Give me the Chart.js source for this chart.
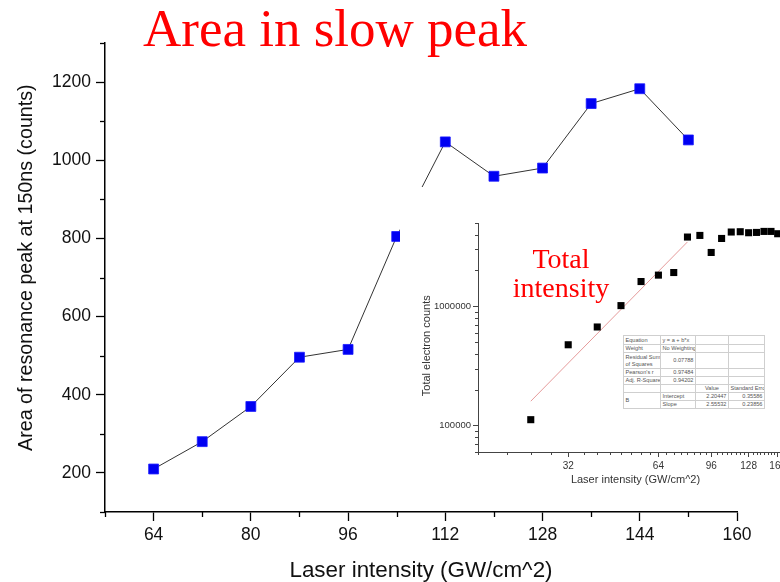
<!DOCTYPE html>
<html>
<head>
<meta charset="utf-8">
<script src="https://cdn.jsdelivr.net/npm/chart.js@4.4.0/dist/chart.umd.min.js"></script>
<style>
  html, body { margin: 0; padding: 0; background: #fff; overflow: hidden; }
  #wrap { position: relative; width: 780px; height: 582px; overflow: hidden; background: #fff; }
  #main { position: absolute; left: 0; top: 0; }
  #headline {
    position: absolute; left: 143px; top: 2px; margin: 0;
    font-family: 'Liberation Serif', 'DejaVu Serif', serif; font-weight: normal;
    font-size: 53px; line-height: 53px; color: #ff0000; white-space: nowrap;
  }
  #insetBox { position: absolute; left: 400px; top: 187px; width: 380px; height: 310px; background: #fff; overflow: hidden; }
  #inset { position: absolute; left: -1px; top: 0; }
  #insetNote {
    position: absolute; left: 501px; top: 244px; width: 120px; text-align: center;
    font-family: 'Liberation Serif', 'DejaVu Serif', serif; font-size: 28px; line-height: 29px; color: #ff0000;
  }
  #fitTable {
    position: absolute; left: 623px; top: 335px; width: 141px; height: 73px;
    border-collapse: collapse; table-layout: fixed; background: #fff;
    font-family: 'Liberation Sans', Arial, sans-serif; font-size: 5.6px; line-height: 6.4px; color: #555;
  }
  #fitTable td { border: 0.6px solid #cfcfcf; padding: 0 1.5px; overflow: hidden; white-space: nowrap; vertical-align: middle; }
  #fitTable td.num { text-align: right; }
  #fitTable td.mid { text-align: center; }
</style>
</head>
<body>
<div id="wrap">
  <canvas id="main" width="780" height="582"></canvas>
  <h1 id="headline">Area in slow peak</h1>
  <div id="insetBox"><canvas id="inset" width="402" height="300"></canvas></div>
  <div id="insetNote">Total<br>intensity</div>
  <table id="fitTable"></table>
</div>
<script>
// Slow-peak area versus laser intensity
const intensity = [64, 72, 80, 88, 96, 104, 112, 120, 128, 136, 144, 152];
const slowPeakArea = [210, 280, 370, 496, 516, 805, 1047, 959, 980, 1145, 1183, 1052];
const xTickValues = [64, 80, 96, 112, 128, 144, 160];
const yTickValues = [200, 400, 600, 800, 1000, 1200];

// Total electron counts (log-log inset)
const insetIntensity = [24, 32, 40, 48, 56, 64, 72, 80, 88, 96, 104, 112, 120, 128, 136, 144, 152, 160];
const totalCounts = [112000, 476000, 671000, 1014000, 1614000, 1827000, 1921000, 3812000, 3933000, 2830000,
                     3710000, 4200000, 4225000, 4143000, 4168000, 4250000, 4250000, 4064000];
const fitIntensity = [24, 80];
const fitCounts = [160000, 3470000];
const insetXTickValues = [32, 64, 96, 128, 160];
const insetYTickValues = [100000, 1000000];

// Linear fit summary
const fitRows = [
  ['Equation', 'y = a + b*x', '', ''],
  ['Weight', 'No Weighting', '', ''],
  ['Residual Sum\nof Squares', '0.07788', '', ''],
  ["Pearson's r", '0.97484', '', ''],
  ['Adj. R-Square', '0.94202', '', ''],
  ['', '', 'Value', 'Standard Erro'],
  ['B', 'Intercept', '2.20447', '0.35586'],
  ['', 'Slope', '2.55532', '0.23856']
];

const SANS = "'Liberation Sans', Arial, sans-serif";
const EN_SPACE = '\u2002';

function stepValues(from, to, step, skip) {
  const out = [];
  for (let v = from; v <= to + 1e-9; v += step) if (!skip.includes(v)) out.push(v);
  return out;
}
function logMinorValues(min, max, skip) {
  const out = [];
  for (let e = Math.floor(Math.log10(min)); e <= Math.ceil(Math.log10(max)); e++) {
    for (let m = 1; m <= 9; m++) {
      const v = m * Math.pow(10, e);
      if (v >= min && v <= max && !skip.includes(v)) out.push(v);
    }
  }
  return out;
}

// Short unlabeled tick marks between the labelled ones
const minorTicks = {
  id: 'minorTicks',
  afterDraw(chart, args, opts) {
    const ctx = chart.ctx;
    ctx.save();
    ctx.strokeStyle = opts.color;
    ctx.lineWidth = opts.width;
    Object.keys(opts.axes).forEach(id => {
      const s = chart.scales[id];
      const cfg = opts.axes[id];
      cfg.values.forEach(v => {
        if (v < s.min || v > s.max) return;
        ctx.beginPath();
        if (s.isHorizontal()) {
          const x = Math.round(s.getPixelForValue(v)) + 0.5;
          ctx.moveTo(x, s.top);
          ctx.lineTo(x, s.top + cfg.length);
        } else {
          const y = Math.round(s.getPixelForValue(v)) + 0.5;
          ctx.moveTo(s.right, y);
          ctx.lineTo(s.right - cfg.length, y);
        }
        ctx.stroke();
      });
    });
    ctx.restore();
  }
};

Chart.register(minorTicks);

new Chart(document.getElementById('main'), {
  type: 'line',
  data: {
    datasets: [{
      data: intensity.map((x, i) => ({ x: x, y: slowPeakArea[i] })),
      borderColor: '#333333',
      borderWidth: 1,
      pointStyle: 'rect',
      pointRadius: 7,
      pointBackgroundColor: '#0000f2',
      pointBorderColor: '#1a1aff',
      pointBorderWidth: 0.8,
      tension: 0
    }]
  },
  options: {
    responsive: false,
    animation: false,
    events: [],
    layout: { padding: { left: 0, top: 43, right: 43, bottom: 0 } },
    plugins: {
      legend: { display: false },
      tooltip: { enabled: false },
      minorTicks: {
        color: '#000', width: 1.3,
        axes: {
          x: { values: stepValues(56, 160, 8, xTickValues), length: 5 },
          y: { values: stepValues(100, 1300, 100, yTickValues), length: 5 }
        }
      }
    },
    scales: {
      x: {
        type: 'linear', min: 56, max: 160,
        afterBuildTicks: s => { s.ticks = xTickValues.map(v => ({ value: v })); },
        afterFit: s => { s.height = 70; },
        grid: { drawOnChartArea: false, tickLength: 9, tickColor: '#000', tickWidth: 1.3 },
        border: { color: '#000', width: 1.5 },
        ticks: { color: '#111', padding: 4, maxRotation: 0, font: { family: SANS, size: 17.5 }, callback: v => String(v) },
        title: { display: true, text: 'Laser intensity (GW/cm^2)', color: '#111',
                 font: { family: SANS, size: 22.4, lineHeight: 1 }, padding: { top: 0, bottom: 0 } }
      },
      y: {
        type: 'linear', min: 100, max: 1300,
        afterBuildTicks: s => { s.ticks = yTickValues.map(v => ({ value: v })); },
        afterFit: s => { s.width = 105; },
        grid: { drawOnChartArea: false, tickLength: 9, tickColor: '#000', tickWidth: 1.3 },
        border: { color: '#000', width: 1.5 },
        ticks: { color: '#111', padding: 5, font: { family: SANS, size: 17.5 }, callback: v => String(v) },
        title: { display: true, text: EN_SPACE + EN_SPACE + 'Area of resonance peak at 150ns (counts)', color: '#111',
                 font: { family: SANS, size: 19.7, lineHeight: 1.2 }, padding: { top: 15, bottom: 0 } }
      }
    }
  }
});

new Chart(document.getElementById('inset'), {
  type: 'scatter',
  data: {
    datasets: [{
      data: insetIntensity.map((x, i) => ({ x: x, y: totalCounts[i] })),
      showLine: false,
      pointStyle: 'rect',
      pointRadius: 5,
      pointBackgroundColor: '#000',
      pointBorderColor: '#000',
      pointBorderWidth: 0
    }, {
      data: fitIntensity.map((x, i) => ({ x: x, y: fitCounts[i] })),
      showLine: true,
      borderColor: '#e59a9a',
      borderWidth: 1,
      pointRadius: 0
    }]
  },
  options: {
    responsive: false,
    animation: false,
    events: [],
    layout: { padding: { left: 0, top: 36, right: 8, bottom: 0 } },
    plugins: {
      legend: { display: false },
      tooltip: { enabled: false },
      minorTicks: {
        color: '#444', width: 1,
        axes: {
          x: { values: stepValues(16, 180, 4, insetXTickValues), length: 3 },
          y: { values: logMinorValues(60000, 5000000, insetYTickValues), length: 3 }
        }
      }
    },
    scales: {
      x: {
        type: 'logarithmic', min: 16, max: 180,
        afterBuildTicks: s => { s.ticks = insetXTickValues.map(v => ({ value: v })); },
        afterFit: s => { s.height = 35; },
        grid: { drawOnChartArea: false, tickLength: 5, tickColor: '#444', tickWidth: 1 },
        border: { color: '#444', width: 1 },
        ticks: { color: '#333', padding: 3, maxRotation: 0, autoSkip: false, font: { family: SANS, size: 10 }, callback: v => String(v) },
        title: { display: true, text: 'Laser intensity (GW/cm^2)', color: '#333',
                 font: { family: SANS, size: 11, lineHeight: 1.2 }, padding: { top: 0, bottom: 0 } }
      },
      y: {
        type: 'logarithmic', min: 60000, max: 5000000,
        afterBuildTicks: s => { s.ticks = insetYTickValues.map(v => ({ value: v })); },
        afterFit: s => { s.width = 79; },
        grid: { drawOnChartArea: false, tickLength: 5, tickColor: '#444', tickWidth: 1 },
        border: { color: '#444', width: 1 },
        ticks: { color: '#333', padding: 2, font: { family: SANS, size: 9.5 }, callback: v => String(v) },
        title: { display: true, text: 'Total electron counts' + EN_SPACE + EN_SPACE + EN_SPACE, color: '#333',
                 font: { family: SANS, size: 11, lineHeight: 1.2 }, padding: { top: 21, bottom: 0 } }
      }
    }
  }
});

// Fit summary table
(function buildTable() {
  const table = document.getElementById('fitTable');
  const colgroup = document.createElement('colgroup');
  [37, 35, 33, 36].forEach(w => { const c = document.createElement('col'); c.style.width = w + 'px'; colgroup.appendChild(c); });
  table.appendChild(colgroup);
  const heights = [8.5, 8.5, 16, 7.5, 8, 8, 8.5, 8];
  fitRows.forEach((row, r) => {
    const tr = document.createElement('tr');
    tr.style.height = heights[r] + 'px';
    row.forEach((cell, c) => {
      if (r === 7 && c === 0) return;
      const td = document.createElement('td');
      cell.split('\n').forEach((part, k) => {
        if (k) td.appendChild(document.createElement('br'));
        td.appendChild(document.createTextNode(part));
      });
      if (r === 6 && c === 0) td.rowSpan = 2;
      if ((r >= 2 && r <= 4 && c === 1) || (r >= 6 && c >= 2)) td.className = 'num';
      if (r === 5 && c >= 2) td.className = 'mid';
      tr.appendChild(td);
    });
    table.appendChild(tr);
  });
})();
</script>
</body>
</html>
